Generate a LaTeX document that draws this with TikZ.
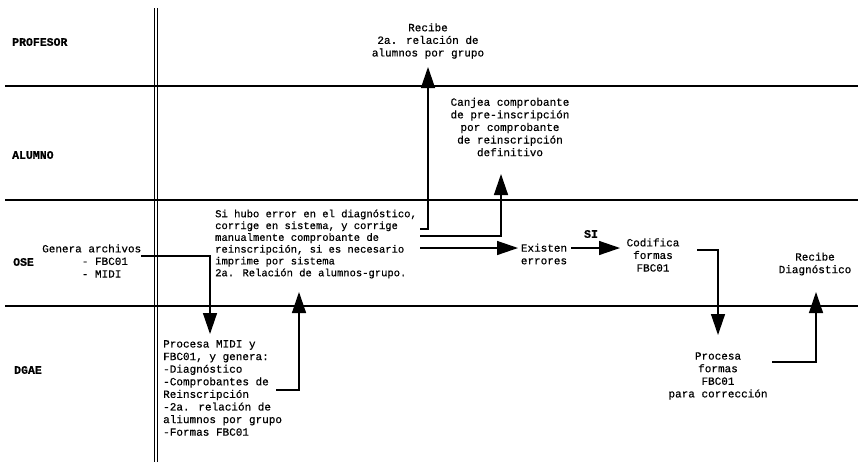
\documentclass[tikz,border=0pt]{standalone}
\usepackage{fontspec}
\setmainfont{Liberation Serif}
\newfontfamily\tw[FakeBold=0.5]{Liberation Mono}
\newfontfamily\lanefont[FakeBold=0.8]{Liberation Mono Bold}
\usetikzlibrary{arrows.meta}

\begin{document}
\begin{tikzpicture}[x=1pt,y=-1pt,
  lane/.style={anchor=west,inner sep=0,font=\lanefont\fontsize{11.5}{12}\selectfont},
  txt/.style={inner sep=0,font=\tw\fontsize{11}{12.6}\selectfont,align=center},
  txtsm/.style={inner sep=0,font=\tw\fontsize{10.5}{11.8}\selectfont,align=left},
  rule/.style={line width=1.5pt},
  wire/.style={line width=1.4pt},
  arr/.style={wire,-{Triangle[length=21pt,width=14pt]}},
]
\useasboundingbox (0,0) rectangle (858,467);

% swim-lane separators
\coordinate (h1l) at (5,86);   \coordinate (h1r) at (858,86);
\coordinate (h2l) at (5,200);  \coordinate (h2r) at (858,200);
\coordinate (h3l) at (5,306);  \coordinate (h3r) at (858,306);
\draw[rule] (h1l) -- (h1r);
\draw[rule] (h2l) -- (h2r);
\draw[rule] (h3l) -- (h3r);
% double rule separating lane names from the flow
\coordinate (v1t) at (154.5,8); \coordinate (v1b) at (154.5,462);
\coordinate (v2t) at (157.8,8); \coordinate (v2b) at (157.8,462);
\draw[line width=1.1pt] (v1t) -- (v1b);
\draw[line width=1.1pt] (v2t) -- (v2b);

% lane names
\node[lane] (prof) at (12,42) {PROFESOR};
\node[lane] (alum) at (12,155) {ALUMNO};
\node[lane] (ose)  at (13,262) {OSE};
\node[lane] (dgae) at (14,370) {DGAE};

% activities
\node[txt] (recibeA) at (428,41) {Recibe\\2a. relación de\\alumnos por grupo};
\node[txt] (canjea) at (510,127) {Canjea comprobante\\de pre-inscripción\\por comprobante\\de reinscripción\\definitivo};
\node[txtsm,anchor=west] (sihubo) at (215,244) {Si hubo error en el diagnóstico,\\corrige en sistema, y corrige\\manualmente comprobante de\\reinscripción, si es necesario\\imprime por sistema\\2a. Relación de alumnos-grupo.};
\node[txt,align=left,anchor=west] (genera) at (42,261) {Genera archivos\\\phantom{Genera}- FBC01\\\phantom{Genera}- MIDI};
\node[txt] (existen) at (544,254) {Existen\\errores};
\node[lane,anchor=center] (si) at (591,234) {SI};
\node[txt] (codifica) at (653,255) {Codifica\\formas\\FBC01};
\node[txt] (procesaF) at (718,376) {Procesa\\formas\\FBC01\\para corrección};
\node[txt] (recibeD) at (815,264) {Recibe\\Diagnóstico};
\node[txt,align=left,anchor=west] (procesaM) at (163,388) {Procesa MIDI y\\FBC01, y genera:\\-Diagnóstico\\-Comprobantes de\\Reinscripción\\-2a. relación de\\aliumnos por grupo\\-Formas FBC01};

% connector end points
\coordinate (g0) at (141,256);  \coordinate (g1) at (210,334);
\coordinate (p0) at (276,390);  \coordinate (p1) at (299,292);
\coordinate (a0) at (420,229);  \coordinate (a1) at (428,67);
\coordinate (b0) at (420,236);  \coordinate (b1) at (501,174);
\coordinate (c0) at (420,248);  \coordinate (c1) at (518,248);
\coordinate (e0) at (571,248);  \coordinate (e1) at (620,248);
\coordinate (f0) at (697,250);  \coordinate (f1) at (718,335);
\coordinate (r0) at (772,362);  \coordinate (r1) at (816,292);

% flow
\draw[arr] (g0) -| (g1);
\draw[arr] (p0) -| (p1);
\draw[arr] (a0) -| (a1);
\draw[arr] (b0) -| (b1);
\draw[arr] (c0) -- (c1);
\draw[arr] (e0) -- (e1);
\draw[arr] (f0) -| (f1);
\draw[arr] (r0) -| (r1);
\end{tikzpicture}
\end{document}
